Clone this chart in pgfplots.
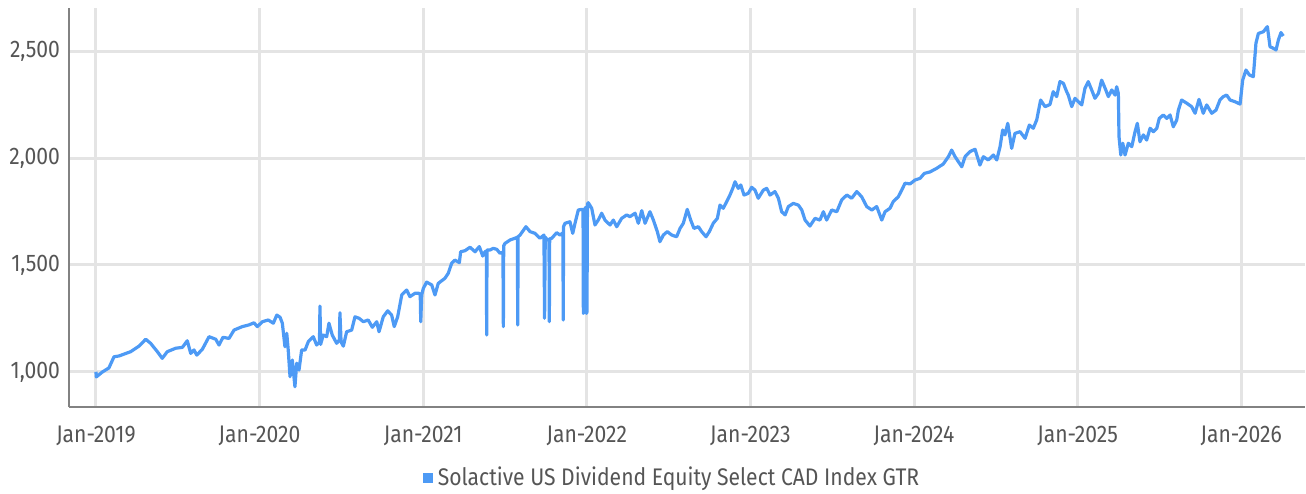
\documentclass[border=0pt]{standalone}
\usepackage{fontspec}
\setmainfont{Fira Sans}[FakeStretch=0.88]
\usepackage{pgfplots}
\pgfplotsset{compat=1.18}
\usepackage{pgfplotstable}
\definecolor{lineblue}{RGB}{77,154,245}
\definecolor{txtgray}{RGB}{85,85,85}
\definecolor{gridgray}{RGB}{228,228,228}
\definecolor{axgray}{RGB}{130,130,130}
\pgfplotstableread{
x v
2019.000 1001
2019.002 977
2019.039 1000
2019.079 1019
2019.110 1071
2019.141 1075
2019.212 1095
2019.263 1121
2019.304 1153
2019.334 1134
2019.375 1095
2019.405 1064
2019.436 1095
2019.487 1111
2019.528 1115
2019.558 1146
2019.579 1087
2019.599 1103
2019.616 1079
2019.650 1106
2019.691 1165
2019.732 1153
2019.752 1126
2019.776 1162
2019.813 1157
2019.844 1196
2019.894 1212
2019.935 1220
2019.966 1230
2019.986 1212
2020.017 1235
2020.053 1243
2020.084 1228
2020.105 1266
2020.125 1256
2020.139 1228
2020.155 1118
2020.166 1181
2020.175 1103
2020.186 978
2020.200 1056
2020.216 931
2020.227 1041
2020.241 1009
2020.257 1103
2020.278 1103
2020.298 1142
2020.328 1165
2020.349 1126
2020.366 1140
2020.369 1308
2020.373 1129
2020.389 1173
2020.410 1165
2020.424 1228
2020.444 1173
2020.471 1134
2020.488 1150
2020.491 1277
2020.498 1140
2020.512 1121
2020.532 1188
2020.563 1196
2020.583 1258
2020.608 1251
2020.634 1235
2020.664 1243
2020.689 1209
2020.716 1235
2020.730 1188
2020.756 1258
2020.783 1286
2020.807 1266
2020.823 1212
2020.844 1258
2020.869 1360
2020.899 1383
2020.919 1352
2020.950 1368
2020.974 1368
2020.982 1360
2020.985 1235
2020.991 1360
2021.001 1391
2021.021 1420
2021.052 1407
2021.072 1360
2021.092 1414
2021.133 1438
2021.153 1461
2021.174 1508
2021.194 1523
2021.221 1511
2021.229 1562
2021.256 1567
2021.286 1583
2021.317 1562
2021.343 1586
2021.364 1542
2021.378 1562
2021.386 1565
2021.388 1173
2021.390 1570
2021.408 1570
2021.428 1578
2021.450 1573
2021.469 1555
2021.4875 1560
2021.490 1212
2021.492 1590
2021.500 1601
2021.531 1617
2021.561 1625
2021.5755 1630
2021.578 1220
2021.580 1632
2021.592 1640
2021.628 1679
2021.653 1656
2021.683 1648
2021.714 1625
2021.738 1640
2021.742 1251
2021.746 1630
2021.759 1617
2021.769 1620
2021.771 1235
2021.773 1622
2021.786 1625
2021.816 1651
2021.836 1640
2021.854 1650
2021.856 1243
2021.858 1680
2021.867 1695
2021.897 1702
2021.914 1648
2021.928 1695
2021.948 1757
2021.969 1760
2021.977 1760
2021.979 1274
2021.983 1280
2021.986 1760
2021.995 1770
2021.998 1274
2022.001 1280
2022.004 1785
2022.009 1791
2022.030 1765
2022.050 1687
2022.070 1710
2022.091 1742
2022.111 1710
2022.142 1687
2022.162 1710
2022.183 1679
2022.213 1718
2022.244 1734
2022.264 1726
2022.295 1742
2022.315 1695
2022.336 1754
2022.356 1695
2022.386 1749
2022.407 1710
2022.431 1656
2022.447 1609
2022.468 1640
2022.492 1656
2022.519 1640
2022.549 1632
2022.570 1671
2022.590 1695
2022.614 1760
2022.635 1710
2022.655 1671
2022.682 1679
2022.702 1656
2022.729 1632
2022.749 1656
2022.773 1695
2022.798 1718
2022.814 1780
2022.834 1765
2022.855 1796
2022.875 1827
2022.892 1858
2022.906 1889
2022.926 1858
2022.941 1874
2022.961 1827
2022.987 1835
2023.008 1863
2023.028 1850
2023.048 1812
2023.079 1850
2023.100 1858
2023.120 1827
2023.150 1843
2023.171 1812
2023.191 1749
2023.212 1734
2023.232 1773
2023.262 1788
2023.293 1780
2023.314 1757
2023.334 1710
2023.364 1682
2023.395 1718
2023.425 1710
2023.446 1749
2023.466 1710
2023.497 1757
2023.528 1749
2023.558 1804
2023.589 1827
2023.619 1812
2023.650 1843
2023.680 1819
2023.711 1773
2023.742 1757
2023.772 1773
2023.803 1710
2023.823 1749
2023.853 1765
2023.873 1796
2023.904 1819
2023.925 1850
2023.945 1882
2023.976 1879
2024.006 1897
2024.037 1905
2024.063 1928
2024.098 1935
2024.139 1952
2024.179 1972
2024.210 2006
2024.230 2037
2024.251 2006
2024.271 1983
2024.292 1959
2024.312 2006
2024.342 2030
2024.373 2041
2024.403 1967
2024.424 2006
2024.454 1991
2024.485 2014
2024.506 1991
2024.526 2053
2024.542 2131
2024.556 2108
2024.573 2162
2024.597 2045
2024.617 2115
2024.648 2123
2024.679 2092
2024.705 2154
2024.729 2139
2024.750 2178
2024.774 2271
2024.801 2240
2024.831 2250
2024.851 2310
2024.872 2287
2024.892 2357
2024.913 2349
2024.933 2310
2024.943 2294
2024.964 2240
2024.984 2279
2025.025 2248
2025.045 2326
2025.065 2357
2025.086 2318
2025.106 2279
2025.127 2302
2025.147 2364
2025.168 2326
2025.188 2287
2025.209 2318
2025.229 2294
2025.239 2333
2025.249 2302
2025.253 2100
2025.264 2014
2025.276 2069
2025.290 2014
2025.310 2069
2025.331 2053
2025.351 2123
2025.365 2162
2025.381 2076
2025.402 2108
2025.422 2084
2025.443 2139
2025.463 2123
2025.484 2139
2025.499 2185
2025.524 2201
2025.545 2185
2025.565 2201
2025.585 2146
2025.606 2178
2025.616 2224
2025.636 2271
2025.667 2256
2025.697 2240
2025.718 2209
2025.742 2274
2025.768 2209
2025.789 2248
2025.820 2209
2025.846 2224
2025.870 2271
2025.891 2287
2025.911 2294
2025.932 2271
2025.962 2263
2025.993 2252
2026.009 2364
2026.029 2411
2026.050 2388
2026.074 2380
2026.090 2536
2026.105 2582
2026.135 2590
2026.160 2614
2026.176 2520
2026.196 2513
2026.213 2505
2026.227 2551
2026.243 2586
2026.257 2570
}\series
\begin{document}
\begin{tikzpicture}
\begin{axis}[
  at={(0,0)}, anchor=south west,
  scale only axis,
  width=618pt, height=199.5pt,
  xmin=2018.835, xmax=2026.390,
  ymin=836.4, ymax=2701,
  axis x line=bottom, axis y line=left,
  axis line style={-, axgray, line width=1pt},
  xtick={2019,2020,2021,2022,2023,2024,2025,2026},
  xticklabels={Jan-2019,Jan-2020,Jan-2021,Jan-2022,Jan-2023,Jan-2024,Jan-2025,Jan-2026},
  ytick={1000,1500,2000,2500},
  major tick length=0pt,
  grid=major,
  major grid style={gridgray, line width=1.5pt},
  tick label style={font=\fontsize{12}{14}\selectfont, text=txtgray},
  xticklabel style={yshift=-6pt},
  yticklabel style={xshift=-1pt},
  /pgf/number format/.cd, 1000 sep={,}, assume math mode=true,
  /pgfplots/.cd,
  legend style={at={(301pt,-35.5pt)}, anchor=center, draw=none, fill=none,
    font=\fontsize{12}{14}\selectfont, text=txtgray, inner sep=0pt,
    /tikz/every even column/.append style={column sep=0pt}},
  legend cell align=left,
  legend image code/.code={},
  clip=false,
]
\addplot[lineblue, line width=1.6pt, line join=round] table[x=x, y=v] {\series};
\addlegendentry{\textcolor{lineblue}{\rule[1.6pt]{5pt}{5pt}}\hspace{2.5pt}Solactive US Dividend Equity Select CAD Index GTR}
\end{axis}
\pgfresetboundingbox
\path[use as bounding box] (-34.5pt,-43pt) rectangle (618.5pt,203.5pt);
\end{tikzpicture}
\end{document}
